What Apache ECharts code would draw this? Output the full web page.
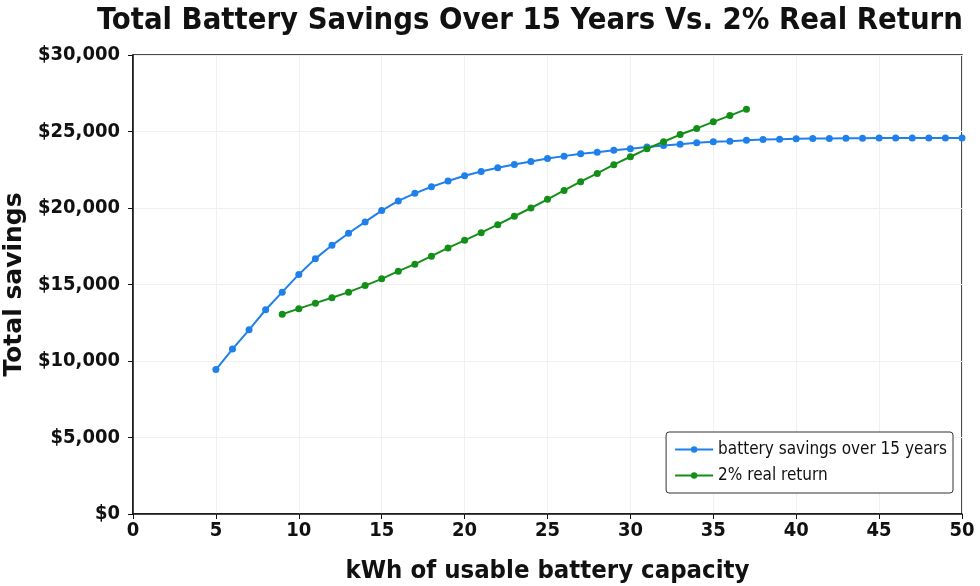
<!DOCTYPE html>
<html>
<head>
<meta charset="UTF-8">
<title>Total Battery Savings</title>
<script src="https://cdn.jsdelivr.net/npm/echarts@6/dist/echarts.min.js"></script>
<style>
  html, body { margin: 0; padding: 0; background: #fff; }
  #chart { width: 980px; height: 586px; }
</style>
</head>
<body>
<div id="chart"></div>
<script>
// kWh of usable battery capacity
var batteryKwh = [5, 6, 7, 8, 9, 10, 11, 12, 13, 14, 15, 16, 17, 18, 19, 20, 21, 22, 23, 24, 25,
  26, 27, 28, 29, 30, 31, 32, 33, 34, 35, 36, 37, 38, 39, 40, 41, 42, 43, 44, 45, 46, 47, 48, 49, 50];
var batterySavings = [9440, 10780, 12040, 13350, 14500, 15660, 16690, 17560, 18350, 19090, 19830,
  20460, 20960, 21390, 21760, 22110, 22390, 22630, 22850, 23040, 23230,
  23390, 23540, 23650, 23780, 23870, 23990, 24090, 24170, 24260, 24330, 24370, 24430, 24480, 24500,
  24520, 24540, 24550, 24560, 24560, 24570, 24570, 24570, 24570, 24570, 24570];

var returnKwh = [9, 10, 11, 12, 13, 14, 15, 16, 17, 18, 19, 20, 21, 22, 23, 24, 25,
  26, 27, 28, 29, 30, 31, 32, 33, 34, 35, 36, 37];
var realReturn = [13060, 13420, 13780, 14130, 14500, 14930, 15370, 15870, 16330, 16850, 17390,
  17890, 18390, 18910, 19460, 20000, 20570, 21150, 21720, 22260, 22830, 23350, 23870,
  24330, 24800, 25200, 25630, 26040, 26460];

var yTicks = [0, 5000, 10000, 15000, 20000, 25000, 30000];

function pairs(xs, ys) {
  var out = [];
  for (var i = 0; i < xs.length; i++) out.push([xs[i], ys[i]]);
  return out;
}

var font = 'DejaVu Sans Condensed, DejaVu Sans, sans-serif';
var chart = echarts.init(document.getElementById('chart'));
chart.setOption({
  animation: false,
  title: {
    text: 'Total Battery Savings Over 15 Years Vs. 2% Real Return',
    left: 92,
    top: 1,
    textStyle: { fontFamily: font, fontWeight: 'bold', fontSize: 30.7, color: '#111' }
  },
  grid: {
    left: 133, right: 18, top: 55, bottom: 72,
    show: true, borderColor: '#111', borderWidth: 1.5,
    containLabel: false, outerBoundsMode: 'none'
  },
  legend: {
    orient: 'vertical',
    right: 27,
    bottom: 93,
    itemWidth: 38,
    itemHeight: 8,
    itemGap: 9,
    padding: [9, 6, 9, 8],
    borderColor: '#333',
    borderWidth: 1,
    borderRadius: 3,
    backgroundColor: '#fff',
    textStyle: { fontFamily: font, fontSize: 17, color: '#111' },
    data: ['battery savings over 15 years', '2% real return']
  },
  xAxis: {
    type: 'value',
    min: 0, max: 50, interval: 5,
    name: 'kWh of usable battery capacity',
    nameLocation: 'middle',
    nameGap: 44,
    nameTextStyle: { fontFamily: font, fontWeight: 'bold', fontSize: 25.5, color: '#111' },
    axisLine: { lineStyle: { color: '#111', width: 1.5 } },
    axisTick: { show: true, length: 5, lineStyle: { color: '#111' } },
    axisLabel: { fontFamily: font, fontWeight: 'bold', fontSize: 20, color: '#111', margin: 7 },
    splitLine: { show: true, lineStyle: { color: '#f0f0f0' } }
  },
  yAxis: {
    type: 'value',
    min: yTicks[0], max: yTicks[yTicks.length - 1], interval: 5000,
    name: 'Total savings',
    nameLocation: 'middle',
    nameGap: 104,
    nameTextStyle: { fontFamily: 'DejaVu Sans, sans-serif', fontWeight: 'bold', fontSize: 25, color: '#111' },
    axisLine: { show: true, lineStyle: { color: '#111', width: 1.5 } },
    axisTick: { show: true, length: 5, lineStyle: { color: '#111' } },
    axisLabel: {
      fontFamily: font, fontWeight: 'bold', fontSize: 20, color: '#111', margin: 13,
      formatter: function (v) { return '$' + v.toLocaleString('en-US'); }
    },
    splitLine: { show: true, lineStyle: { color: '#f0f0f0' } }
  },
  series: [{
    name: 'battery savings over 15 years',
    type: 'line',
    data: pairs(batteryKwh, batterySavings),
    color: '#1f80ec',
    symbol: 'circle',
    symbolSize: 7,
    lineStyle: { width: 2 }
  }, {
    name: '2% real return',
    type: 'line',
    data: pairs(returnKwh, realReturn),
    color: '#138f17',
    symbol: 'circle',
    symbolSize: 7,
    lineStyle: { width: 2 }
  }]
});
</script>
</body>
</html>
